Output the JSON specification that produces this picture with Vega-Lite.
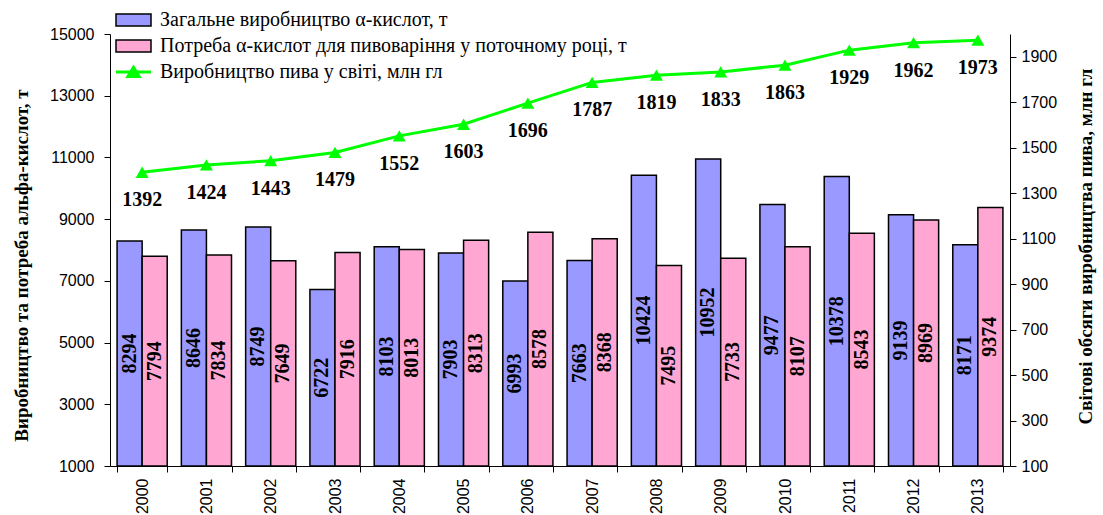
{
  "$schema": "https://vega.github.io/schema/vega-lite/v6.json",
  "width": 900,
  "height": 432,
  "autosize": {"type": "none"},
  "padding": {"left": 110, "top": 34, "right": 93, "bottom": 49},
  "background": "white",
  "config": {
    "view": {"stroke": null},
    "axis": {"labelFont": "Liberation Sans", "labelFontSize": 16, "labelColor": "black", "domainColor": "black", "tickColor": "black", "grid": false, "titleFont": "Liberation Serif", "titleFontWeight": "bold", "titleFontSize": 19, "titleColor": "black"},
    "legend": {"labelFont": "Liberation Serif", "labelFontSize": 20, "labelColor": "black", "padding": 0, "offset": 0, "labelLimit": 0}
  },
  "datasets": {
    "acids": [
      {"year": "2000", "series": "Загальне виробництво α-кислот, т", "value": 8294},
      {"year": "2001", "series": "Загальне виробництво α-кислот, т", "value": 8646},
      {"year": "2002", "series": "Загальне виробництво α-кислот, т", "value": 8749},
      {"year": "2003", "series": "Загальне виробництво α-кислот, т", "value": 6722},
      {"year": "2004", "series": "Загальне виробництво α-кислот, т", "value": 8103},
      {"year": "2005", "series": "Загальне виробництво α-кислот, т", "value": 7903},
      {"year": "2006", "series": "Загальне виробництво α-кислот, т", "value": 6993},
      {"year": "2007", "series": "Загальне виробництво α-кислот, т", "value": 7663},
      {"year": "2008", "series": "Загальне виробництво α-кислот, т", "value": 10424},
      {"year": "2009", "series": "Загальне виробництво α-кислот, т", "value": 10952},
      {"year": "2010", "series": "Загальне виробництво α-кислот, т", "value": 9477},
      {"year": "2011", "series": "Загальне виробництво α-кислот, т", "value": 10378},
      {"year": "2012", "series": "Загальне виробництво α-кислот, т", "value": 9139},
      {"year": "2013", "series": "Загальне виробництво α-кислот, т", "value": 8171},
      {"year": "2000", "series": "Потреба α-кислот для пивоваріння у поточному році, т", "value": 7794},
      {"year": "2001", "series": "Потреба α-кислот для пивоваріння у поточному році, т", "value": 7834},
      {"year": "2002", "series": "Потреба α-кислот для пивоваріння у поточному році, т", "value": 7649},
      {"year": "2003", "series": "Потреба α-кислот для пивоваріння у поточному році, т", "value": 7916},
      {"year": "2004", "series": "Потреба α-кислот для пивоваріння у поточному році, т", "value": 8013},
      {"year": "2005", "series": "Потреба α-кислот для пивоваріння у поточному році, т", "value": 8313},
      {"year": "2006", "series": "Потреба α-кислот для пивоваріння у поточному році, т", "value": 8578},
      {"year": "2007", "series": "Потреба α-кислот для пивоваріння у поточному році, т", "value": 8368},
      {"year": "2008", "series": "Потреба α-кислот для пивоваріння у поточному році, т", "value": 7495},
      {"year": "2009", "series": "Потреба α-кислот для пивоваріння у поточному році, т", "value": 7733},
      {"year": "2010", "series": "Потреба α-кислот для пивоваріння у поточному році, т", "value": 8107},
      {"year": "2011", "series": "Потреба α-кислот для пивоваріння у поточному році, т", "value": 8543},
      {"year": "2012", "series": "Потреба α-кислот для пивоваріння у поточному році, т", "value": 8969},
      {"year": "2013", "series": "Потреба α-кислот для пивоваріння у поточному році, т", "value": 9374}
    ],
    "beer": [
      {"year": "2000", "beer": 1392},
      {"year": "2001", "beer": 1424},
      {"year": "2002", "beer": 1443},
      {"year": "2003", "beer": 1479},
      {"year": "2004", "beer": 1552},
      {"year": "2005", "beer": 1603},
      {"year": "2006", "beer": 1696},
      {"year": "2007", "beer": 1787},
      {"year": "2008", "beer": 1819},
      {"year": "2009", "beer": 1833},
      {"year": "2010", "beer": 1863},
      {"year": "2011", "beer": 1929},
      {"year": "2012", "beer": 1962},
      {"year": "2013", "beer": 1973}
    ]
  },
  "encoding": {
    "x": {
      "field": "year", "type": "ordinal",
      "scale": {"paddingInner": 0.22, "paddingOuter": 0.11},
      "axis": {"title": null, "labelAngle": 270, "labelAlign": "right", "labelBaseline": "middle", "labelFontSize": 16, "tickBand": "extent", "tickSize": 6, "labelPadding": 6}
    }
  },
  "layer": [
    {
      "data": {"name": "acids"},
      "mark": {"type": "bar", "stroke": "black", "strokeWidth": 1.5},
      "encoding": {
        "xOffset": {"field": "series", "type": "nominal", "scale": {"domain": ["Загальне виробництво α-кислот, т", "Потреба α-кислот для пивоваріння у поточному році, т"]}},
        "y": {
          "field": "value", "type": "quantitative",
          "scale": {"domain": [1000, 15000], "zero": false, "nice": false},
          "axis": {"values": [1000, 3000, 5000, 7000, 9000, 11000, 13000, 15000], "format": "d", "title": "Виробництво та потреба альфа-кислот, т", "tickSize": 6, "labelPadding": 10, "titleAngle": 270, "titleAlign": "center", "titleBaseline": "middle", "titleX": -89, "titleY": 231}
        },
        "y2": {"datum": 1000},
        "fill": {
          "field": "series", "type": "nominal",
          "scale": {"domain": ["Загальне виробництво α-кислот, т", "Потреба α-кислот для пивоваріння у поточному році, т"], "range": ["#9999FF", "#FFA6D2"]},
          "legend": {"title": null, "orient": "none", "legendX": 3, "legendY": -24, "symbolType": "M-1,-0.85H4V0.85H-1Z", "symbolSize": 196, "symbolStrokeColor": "black", "symbolStrokeWidth": 1.5, "labelOffset": 27, "rowPadding": 6}
        }
      }
    },
    {
      "data": {"name": "acids"},
      "mark": {"type": "text", "angle": 270, "align": "center", "baseline": "middle", "font": "Liberation Serif", "fontWeight": "bold", "fontSize": 20, "color": "black"},
      "encoding": {
        "xOffset": {"field": "series", "type": "nominal"},
        "y": {"field": "value", "type": "quantitative", "scale": {"domain": [1000, 29000], "zero": false, "nice": false}, "axis": null},
        "text": {"field": "value", "type": "quantitative", "format": "d"}
      }
    },
    {
      "data": {"name": "beer"},
      "encoding": {
        "y": {
          "field": "beer", "type": "quantitative",
          "scale": {"domain": [100, 2000], "zero": false, "nice": false},
          "axis": {"orient": "right", "values": [100, 300, 500, 700, 900, 1100, 1300, 1500, 1700, 1900], "format": "d", "title": "Світові обсяги виробництва пива, млн гл", "tickSize": 6, "labelPadding": 5, "titleAngle": 270, "titleAlign": "center", "titleBaseline": "middle", "titleX": 75, "titleY": 212}
        }
      },
      "layer": [
        {
          "mark": {"type": "line", "strokeWidth": 3},
          "encoding": {
            "stroke": {
              "datum": "Виробництво пива у світі, млн гл",
              "scale": {"range": ["#00FF00"]},
              "legend": {"title": null, "orient": "none", "legendX": 3, "legendY": 28, "symbolType": "M-1,0H4M0.7,0.65L1.5,-0.65L2.3,0.65Z", "symbolSize": 196, "symbolStrokeWidth": 3, "symbolFillColor": "#00FF00", "labelOffset": 27}
            }
          }
        },
        {
          "mark": {"type": "point", "shape": "triangle-up", "filled": true, "color": "#00FF00", "size": 170, "opacity": 1}
        },
        {
          "mark": {"type": "text", "dy": 28, "align": "center", "baseline": "middle", "font": "Liberation Serif", "fontWeight": "bold", "fontSize": 20, "color": "black"},
          "encoding": {"text": {"field": "beer", "type": "quantitative", "format": "d"}}
        }
      ]
    }
  ],
  "resolve": {"scale": {"y": "independent"}}
}
